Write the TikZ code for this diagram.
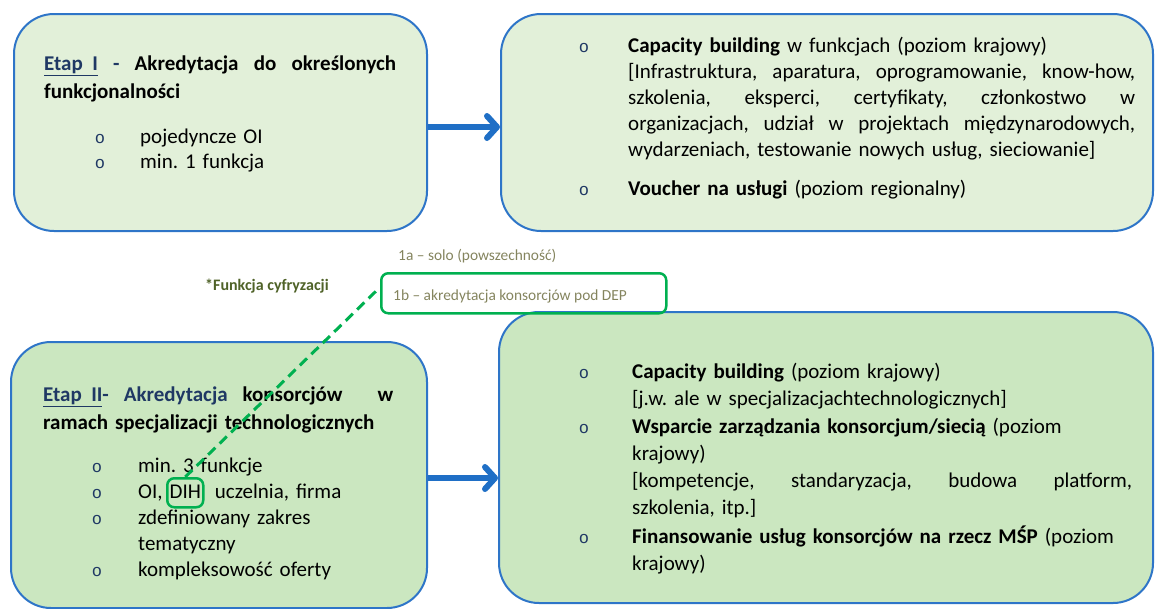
\documentclass[tikz,border=0pt]{standalone}
\usepackage{fontspec}
\setmainfont{Carlito}
\newfontfamily\bulfont{Liberation Mono}
\usetikzlibrary{arrows.meta}

\definecolor{boxline}{HTML}{2E75C8}
\definecolor{paletop}{HTML}{E2F0D9}
\definecolor{palebot}{HTML}{CBE7C0}
\definecolor{navy}{HTML}{1F3864}
\definecolor{arrowblue}{HTML}{1F6FC6}
\definecolor{dgreen}{HTML}{00B050}
\definecolor{olivegray}{HTML}{84845E}
\definecolor{olivedark}{HTML}{4F6228}

% a justified line: word spaces stretched to the given width
\newcommand\jline[2]{\leavevmode\hbox to #1{\spaceskip=0.226em plus 1fil\relax #2}}
\frenchspacing

\begin{document}
\begin{tikzpicture}[x=1pt,y=-1pt,
  panel/.style={draw=boxline, line width=2pt, rounded corners=40pt,
    anchor=north west, inner sep=0pt},
  body/.style={anchor=base west, inner sep=0pt, text width=#1, align=left,
    font=\fontsize{21}{26}\selectfont},
  head/.style={anchor=base west, inner sep=0pt, text width=#1, align=left,
    font=\fontsize{21}{28.5}\selectfont\bfseries},
  bulletmark/.style={anchor=base, inner sep=0pt, text=navy,
    font=\bulfont\fontsize{17}{17}\selectfont},
  flow/.style={draw=arrowblue, line width=6pt,
    -{Straight Barb[length=10pt,width=22pt,round]}},
  tagbox/.style={draw=dgreen, line width=2.5pt, rounded corners=7pt,
    anchor=north west, inner sep=0pt},
  note/.style={anchor=base west, inner sep=0pt, text=olivegray,
    font=\fontsize{15.4}{17}\selectfont},
  link/.style={draw=dgreen, line width=3pt, dash pattern=on 10pt off 6pt}
]
\useasboundingbox (0,0) rectangle (1155,608);

% ---- panels ----
\node[panel, fill=paletop, minimum width=413pt, minimum height=217pt] (etapI) at (13,13) {};
\node[panel, fill=paletop, minimum width=652pt, minimum height=217pt] (wsparcieI) at (500,13) {};
\node[panel, fill=palebot, minimum width=416pt, minimum height=266pt] (etapII) at (10,341) {};
\node[panel, fill=palebot, minimum width=654pt, minimum height=291pt] (wsparcieII) at (498,311) {};

% ---- stage I ----
\node[head=360pt] (hI) at (44,70)
  {\jline{352pt}{\textcolor{navy}{\underline{Etap\kern0.45em I}} \textcolor{navy}{-} Akredytacja do określonych}\\
   funkcjonalności};
\node[bulletmark] (bI1) at (100,143) {o};
\node[bulletmark] (bI2) at (100,168) {o};
\node[body=260pt, font=\fontsize{21}{25}\selectfont] (lI) at (140,143)
  {pojedyncze OI\\ min. 1 funkcja};

% ---- support for stage I ----
\node[bulletmark] (bW1) at (584,52) {o};
\node[body=512pt] (w1) at (628,52)
  {\textbf{Capacity building} w funkcjach (poziom krajowy)\\
   \jline{507pt}{{[}Infrastruktura, aparatura, oprogramowanie, know-how,}\\
   \jline{507pt}{szkolenia, eksperci, certyfikaty, członkostwo w}\\
   \jline{507pt}{organizacjach, udział w projektach międzynarodowych,}\\
   wydarzeniach, testowanie nowych usług, sieciowanie]};
\node[bulletmark] (bW2) at (584,195) {o};
\node[body=507pt] (w2) at (628,195)
  {\textbf{Voucher na usługi} (poziom regionalny)};

% ---- stage II ----
\node[head=360pt] (hII) at (43,401)
  {\jline{350pt}{\textcolor{navy}{\underline{Etap\kern0.45em II}- Akredytacja} konsorcjów\ \ \hspace{0pt plus 0.5fil}w}\\
   ramach specjalizacji technologicznych};
\node[bulletmark] (bII1) at (97,472) {o};
\node[bulletmark] (bII2) at (97,498) {o};
\node[bulletmark] (bII3) at (97,524) {o};
\node[bulletmark] (bII4) at (97,576) {o};
\node[body=270pt] (lII) at (138,472)
  {min. 3 funkcje\\ OI, DIH\ \ uczelnia, firma\\ zdefiniowany zakres\\ tematyczny\\ kompleksowość oferty};
\node[tagbox, minimum width=36pt, minimum height=29pt] (dih) at (166,477) {};

% ---- support for stage II ----
\node[bulletmark] (bV1) at (584,378) {o};
\node[body=505pt, font=\fontsize{21}{27}\selectfont] (v1) at (632,378)
  {\textbf{Capacity building} (poziom krajowy)\\
   {[}j.w. ale w specjalizacjachtechnologicznych]};
\node[bulletmark] (bV2) at (584,433) {o};
\node[body=505pt, font=\fontsize{21}{27}\selectfont] (v2) at (632,433)
  {\textbf{Wsparcie zarządzania konsorcjum/siecią} (poziom\\
   krajowy)\\
   \jline{500pt}{{[}kompetencje, standaryzacja, budowa platform,}\\
   szkolenia, itp.]};
\node[bulletmark] (bV3) at (584,543) {o};
\node[body=505pt, font=\fontsize{21}{27}\selectfont] (v3) at (632,543)
  {\textbf{Finansowanie usług konsorcjów na rzecz MŚP} (poziom\\
   krajowy)};

% ---- digitisation labels ----
\node[note] (n1a) at (398,260) {1a – solo (powszechność)};
\node[tagbox, minimum width=285pt, minimum height=40pt] (g1b) at (380,272) {};
\node[note] (n1b) at (393,300) {1b – akredytacja konsorcjów pod DEP};
\node[anchor=base west, inner sep=0pt, text=olivedark,
  font=\fontsize{16}{18}\selectfont\bfseries] (fc) at (205,290) {*Funkcja cyfryzacji};

% ---- connectors ----
\coordinate (rowI) at (0,127);
\coordinate (rowII) at (0,478);
\draw[flow] (etapI.east |- rowI) -- (wsparcieI.west |- rowI);
\draw[flow] (etapII.east |- rowII) -- (wsparcieII.west |- rowII);
\draw[link] (dih.north) -- ([yshift=6pt]g1b.west);
\end{tikzpicture}
\end{document}
